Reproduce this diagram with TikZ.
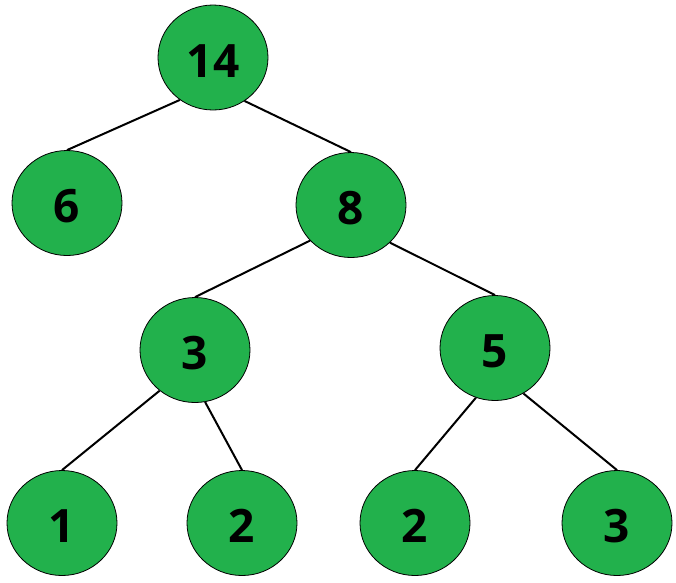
\documentclass[tikz,border=0pt]{standalone}
\usepackage{fontspec}
\setmainfont{Open Sans}
\usetikzlibrary{shapes.geometric}
\definecolor{nodegreen}{RGB}{34,177,76}
\begin{document}
\begin{tikzpicture}[x=1pt,y=-1pt,
  tnode/.style={ellipse,draw=black,line width=0.8pt,fill=nodegreen,
    minimum width=110pt,minimum height=105pt,inner sep=0pt,
    font=\fontsize{46}{46}\bfseries,text height=39pt,text depth=0pt},
  edge/.style={draw=black,line width=2pt}]
\useasboundingbox (0,0) rectangle (676,582);
\node[tnode] (n14) at (213,57.5) {14};
\node[tnode] (n6) at (67,203) {6};
\node[tnode] (n8) at (351,205) {8};
\node[tnode] (n3) at (195,350) {3};
\node[tnode] (n5) at (495,348) {5};
\node[tnode] (n1) at (62,523) {1};
\node[tnode] (n2a) at (242,523) {2};
\node[tnode] (n2b) at (415,523) {2};
\node[tnode] (n3b) at (617,523) {3};
\draw[edge] (n14.232) -- (n6.north);
\draw[edge] (n14.306) -- (n8.north);
\draw[edge] (n8.221) -- (n3.north);
\draw[edge] (n8.316) -- (n5.north);
\draw[edge] (n3.229) -- (n1.north);
\draw[edge] (n3.281) -- (n2a.north);
\draw[edge] (n5.249) -- (n2b.north);
\draw[edge] (n5.302) -- (n3b.north);
\end{tikzpicture}
\end{document}
